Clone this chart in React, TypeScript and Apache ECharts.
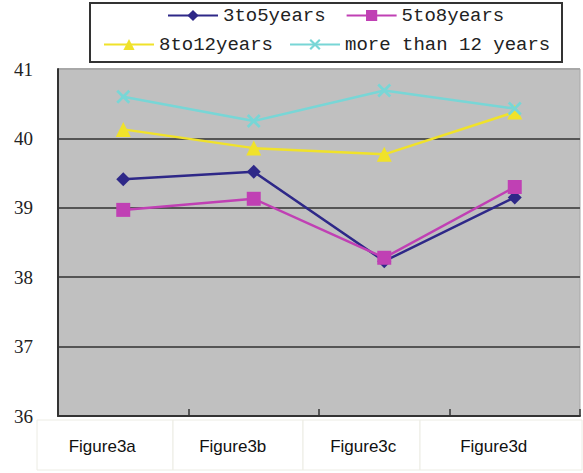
import React, { useEffect, useRef } from "react";
import * as echarts from "echarts";

const categories = ["Figure3a", "Figure3b", "Figure3c", "Figure3d"];
const seriesNames = ["3to5years", "5to8years", "8to12years", "more than 12 years"];
const s3to5 = [39.41, 39.52, 38.23, 39.15];
const s5to8 = [38.97, 39.13, 38.28, 39.3];
const s8to12 = [40.13, 39.86, 39.77, 40.38];
const sMore12 = [40.6, 40.25, 40.69, 40.43];
const yMin = 36;
const yMax = 41;

const X_PATH =
  "path://M0,1.4 L1.4,0 L5,3.6 L8.6,0 L10,1.4 L6.4,5 L10,8.6 L8.6,10 L5,6.4 L1.4,10 L0,8.6 L3.6,5 Z";

export default function App() {
  const ref = useRef<HTMLDivElement>(null);
  useEffect(() => {
    if (!ref.current) return;
    const chart = echarts.init(ref.current, null, { renderer: "svg" });
    const legendText = {
      fontFamily: "'Liberation Mono', monospace",
      fontSize: 19,
      color: "#222",
    };
    const mk = (name: string, data: number[], color: string, symbol: string, size: number) => ({
      name,
      type: "line",
      data,
      symbol,
      symbolSize: size,
      showSymbol: true,
      lineStyle: { color, width: 2.5 },
      itemStyle: { color },
      z: 3,
    });
    chart.setOption({
      animation: false,
      backgroundColor: "#ffffff",
      graphic: [
        {
          type: "rect",
          shape: { x: 90, y: 3, width: 472, height: 59 },
          style: { fill: "#ffffff", stroke: "#333", lineWidth: 2 },
          z: -1,
        },
        ...[
          [37, 136],
          [173, 130],
          [303, 117],
          [420, 162],
        ].map(([x, w]) => ({
          type: "rect",
          shape: { x, y: 420, width: w, height: 50 },
          style: { fill: "#ffffff", stroke: "#ecece4", lineWidth: 1 },
          z: -1,
        })),
      ],
      legend: [
        {
          data: [seriesNames[0], seriesNames[1]],
          left: 167,
          top: 6,
          padding: 0,
          itemWidth: 50,
          itemHeight: 14,
          itemGap: 20,
          textStyle: legendText,
        },
        {
          data: [seriesNames[2], seriesNames[3]],
          left: 103,
          top: 35,
          padding: 0,
          itemWidth: 50,
          itemHeight: 14,
          itemGap: 16,
          textStyle: legendText,
        },
      ],
      grid: {
        left: 58,
        right: 3,
        top: 69,
        bottom: 57,
        show: true,
        backgroundColor: "#c0c0c0",
        borderColor: "#a8a8a8",
        borderWidth: 1,
      },
      xAxis: {
        type: "category",
        data: categories,
        boundaryGap: true,
        axisLine: { show: true, lineStyle: { color: "#333", width: 2 } },
        axisTick: { show: true, inside: true, length: 7, lineStyle: { color: "#333", width: 1.5 } },
        axisLabel: {
          fontFamily: "'Liberation Sans', Arial, sans-serif",
          fontSize: 17,
          color: "#111",
          margin: 22,
          padding: [0, 42, 0, 0],
        },
      },
      yAxis: {
        type: "value",
        min: yMin,
        max: yMax,
        interval: 1,
        axisLine: { show: true, lineStyle: { color: "#333", width: 2 } },
        axisTick: { show: false },
        axisLabel: {
          fontFamily: "'Liberation Serif', 'Times New Roman', serif",
          fontSize: 19,
          color: "#222",
          margin: 25,
        },
        splitLine: {
          show: true,
          lineStyle: {
            color: ["#555", "#555", "#555", "#555", "#555", "#a8a8a8"],
            width: 2,
          },
        },
      },
      series: [
        mk(seriesNames[0], s3to5, "#2e2888", "diamond", 14),
        mk(seriesNames[1], s5to8, "#c040b4", "rect", 14),
        mk(seriesNames[2], s8to12, "#f0e22a", "triangle", 15),
        mk(seriesNames[3], sMore12, "#78d6d6", X_PATH, 14),
      ],
    });
    return () => chart.dispose();
  }, []);
  return (
    <div
      ref={ref}
      style={{ position: "fixed", left: 0, top: 0, width: 583, height: 473 }}
    />
  );
}
